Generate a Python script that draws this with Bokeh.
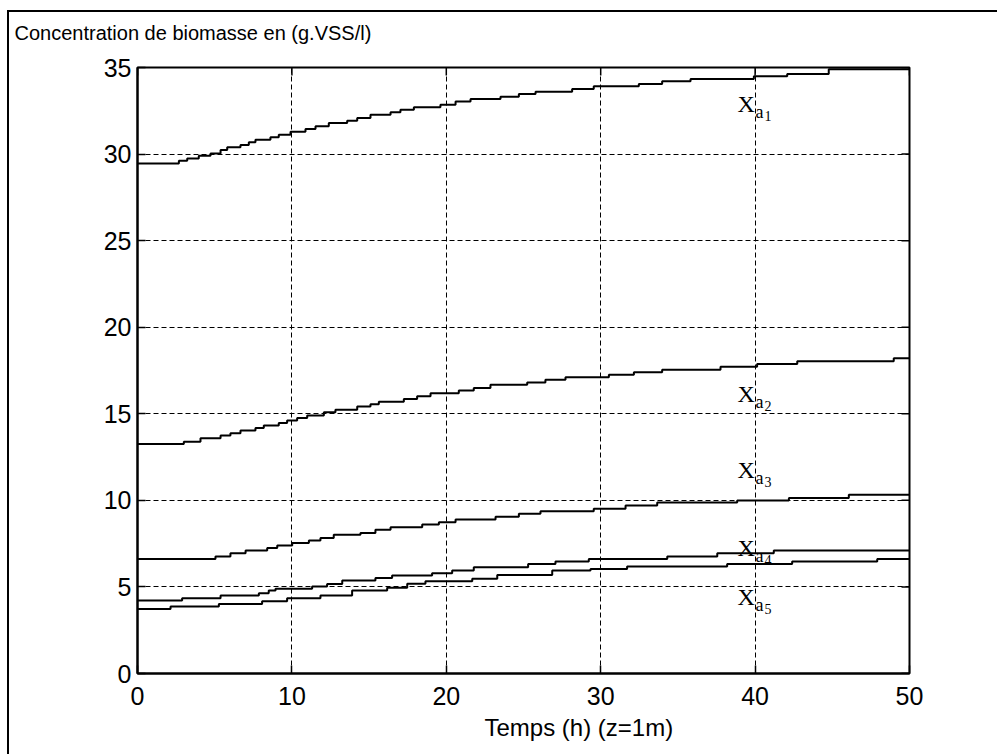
import math
from bokeh.plotting import figure
from bokeh.models import FixedTicker, Range1d, ColumnDataSource, Title
from bokeh.core.properties import value
from bokeh.embed import file_html
from bokeh.resources import INLINE

title_text = "Concentration de biomasse en (g.VSS/l)"
x_title = "Temps (h)  (z=1m)"
x_ticks = [0, 10, 20, 30, 40, 50]
y_ticks = [0, 5, 10, 15, 20, 25, 30, 35]

# step times (h) and levels (g.VSS/l) for each layer
xa1_t = [0, 2.68, 3.22, 3.97, 4.73, 5.38, 5.81, 6.67, 7.21, 7.64, 8.61, 9.15, 9.91, 10.88, 11.53,
         12.39, 13.58, 14.23, 15.09, 16.39, 17.03, 17.9, 19.62, 20.6, 21.57, 23.51, 24.7, 25.78,
         28.15, 29.55, 32.47, 33.98, 35.82, 39.92, 42.08, 44.77]
xa1_c = [29.46, 29.62, 29.75, 29.91, 30.04, 30.23, 30.39, 30.52, 30.68, 30.83, 30.97, 31.12, 31.29,
         31.45, 31.6, 31.79, 31.93, 32.08, 32.27, 32.41, 32.56, 32.7, 32.85, 33.03, 33.18, 33.31,
         33.47, 33.6, 33.76, 33.91, 34.05, 34.2, 34.33, 34.49, 34.62, 34.9]

xa2_t = [0, 3.0, 4.08, 5.38, 6.02, 6.67, 7.64, 8.18, 9.15, 9.69, 10.34, 10.99, 12.07, 12.82, 14.23,
         15.09, 15.63, 17.25, 18.11, 18.98, 20.81, 21.78, 22.86, 25.24, 26.42, 27.72, 30.53, 32.15,
         33.98, 37.76, 40.13, 42.73, 48.98]
xa2_c = [13.26, 13.39, 13.59, 13.74, 13.88, 14.03, 14.18, 14.32, 14.47, 14.61, 14.76, 14.9, 15.09,
         15.24, 15.42, 15.55, 15.7, 15.86, 16.01, 16.18, 16.34, 16.49, 16.67, 16.8, 16.96, 17.11,
         17.26, 17.4, 17.55, 17.71, 17.88, 18.03, 18.21]

xa3_t = [0, 5.05, 6.02, 7.0, 8.4, 9.05, 10.02, 11.1, 11.85, 12.71, 14.44, 15.41, 16.39, 18.44, 19.52,
         20.6, 23.19, 24.7, 26.1, 29.55, 31.61, 33.66, 38.84, 42.19, 46.07]
xa3_c = [6.62, 6.76, 6.95, 7.1, 7.25, 7.39, 7.54, 7.68, 7.83, 8.01, 8.12, 8.3, 8.45, 8.6, 8.74, 8.89,
         9.06, 9.22, 9.37, 9.51, 9.7, 9.87, 9.99, 10.14, 10.33]

xa4_t = [0, 2.89, 5.38, 7.86, 8.5, 8.94, 11.31, 12.28, 13.26, 15.41, 16.49, 19.08, 20.38, 21.78,
         25.3, 27.07, 29.23, 34.31, 37.55, 41.21]
xa4_c = [4.21, 4.35, 4.5, 4.64, 4.79, 4.89, 5.02, 5.17, 5.37, 5.52, 5.66, 5.79, 5.95, 6.14, 6.33,
         6.47, 6.62, 6.76, 6.95, 7.1]

xa5_t = [0, 2.14, 5.27, 8.07, 9.69, 11.85, 13.9, 16.17, 17.47, 18.65, 21.68, 23.3, 26.86, 29.34,
         31.71, 38.19, 42.4, 47.91]
xa5_c = [3.73, 3.87, 4.02, 4.18, 4.35, 4.5, 4.79, 4.95, 5.18, 5.33, 5.47, 5.69, 5.95, 6.04, 6.18,
         6.33, 6.47, 6.62]

label_digits = ["1", "2", "3", "4", "5"]
label_t = [38.86, 38.86, 38.86, 38.86, 38.86]
label_c = [32.91, 16.17, 11.78, 7.22, 4.39]

T_START, T_END = 0, 50
C_MIN, C_MAX = 0, 35

FONT = "Liberation Sans"

p = figure(frame_width=772, frame_height=606,
           x_range=Range1d(T_START, T_END), y_range=Range1d(C_MIN, C_MAX),
           output_backend="svg", toolbar_location=None,
           min_border_left=128, min_border_right=88, min_border_top=55, min_border_bottom=81,
           styles={"margin-left": "7px", "margin-top": "10px",
                   "border-left": "2px solid black", "border-top": "2px solid black"})
p.background_fill_color = "white"
p.border_fill_color = "white"
p.outline_line_color = "black"
p.outline_line_width = 2

# title (top-left); the empty second line lifts it towards the top border
p.title.text = title_text + "\n "
p.title.align = "left"
p.title.offset = -123
p.title.text_font = FONT
p.title.text_font_size = "20px"
p.title.text_font_style = "normal"
p.title.text_color = "black"
p.title.standoff = 4

for ax in (p.xaxis[0], p.yaxis[0]):
    ax.axis_line_color = "black"
    ax.axis_line_width = 2
    ax.major_tick_line_color = "black"
    ax.major_tick_line_width = 1.5
    ax.major_tick_in = 8
    ax.major_tick_out = 0
    ax.minor_tick_line_color = None
    ax.major_label_text_font = FONT
    ax.major_label_text_color = "black"
    ax.major_label_text_font_size = "25px"
p.xaxis.ticker = FixedTicker(ticks=x_ticks)
p.yaxis.ticker = FixedTicker(ticks=y_ticks)
p.xaxis.major_label_standoff = 13
p.yaxis.major_label_standoff = 6

# x-axis title, placed slightly right of centre as in the original
xt = Title(text=x_title, align="left", offset=347, text_font=FONT, text_font_size="24px",
           text_font_style="normal", text_color="black", standoff=8)
p.add_layout(xt, "below")

for g in (p.xgrid, p.ygrid):
    g.grid_line_color = "black"
    g.grid_line_width = 1
    g.grid_line_dash = "5 3"
p.xgrid.ticker = FixedTicker(ticks=x_ticks)
p.ygrid.ticker = FixedTicker(ticks=y_ticks)

# inward tick marks on the top and right edges of the box
p.scatter(x=x_ticks, y=[C_MAX] * len(x_ticks), marker="dash", angle=math.pi / 2, size=16,
          line_color="black", line_width=1.5)
p.scatter(x=[T_END] * len(y_ticks), y=y_ticks, marker="dash", size=16,
          line_color="black", line_width=1.5)

for ts, cs in ((xa1_t, xa1_c), (xa2_t, xa2_c), (xa3_t, xa3_c), (xa4_t, xa4_c), (xa5_t, xa5_c)):
    p.step(x=ts + [T_END], y=cs + [cs[-1]], mode="after", line_color="black", line_width=2)

src = ColumnDataSource(dict(x=label_t, y=label_c, d=label_digits))
p.text(x="x", y="y", text=value("X"), source=src, text_font=value("Liberation Serif"),
       text_font_size="24px", text_color="black", text_baseline="alphabetic", text_align="left")
p.text(x="x", y="y", text=value("a"), source=src, text_font=value("Liberation Serif"),
       text_font_size="18px", text_color="black", text_baseline="alphabetic", text_align="left",
       x_offset=18, y_offset=8)
p.text(x="x", y="y", text="d", source=src, text_font=value("Liberation Serif"),
       text_font_size="14px", text_color="black", text_baseline="alphabetic", text_align="left",
       x_offset=27, y_offset=12)

open("out.html", "w").write(file_html(p, INLINE))
